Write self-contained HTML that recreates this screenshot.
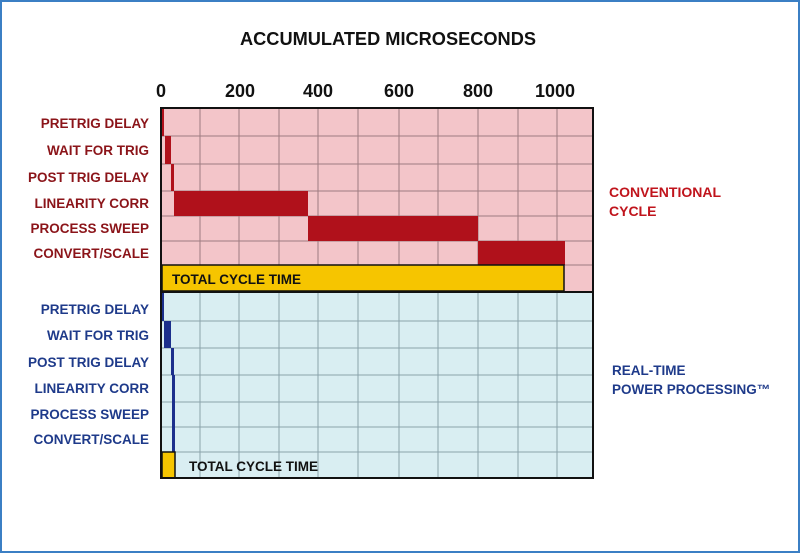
<!DOCTYPE html>
<html><head><meta charset="utf-8"><style>
html,body{margin:0;padding:0;background:#fff}
svg{display:block}
text{font-family:"Liberation Sans",sans-serif;font-weight:bold}
</style></head><body>
<svg width="800" height="553" viewBox="0 0 800 553">
<rect x="1" y="1" width="798" height="551" fill="#fff" stroke="#3b7fc4" stroke-width="2"/>
<text x="388" y="45" font-size="18" text-anchor="middle" fill="#111" textLength="296" lengthAdjust="spacingAndGlyphs">ACCUMULATED MICROSECONDS</text>
<g font-size="18" fill="#111" text-anchor="middle">
<text x="161" y="97">0</text><text x="240" y="97">200</text><text x="318" y="97">400</text>
<text x="399" y="97">600</text><text x="478" y="97">800</text><text x="555" y="97">1000</text>
</g>
<rect x="161" y="108" width="432" height="184" fill="#f3c5c9"/>
<rect x="161" y="292" width="432" height="186" fill="#d9eef2"/>
<g stroke="#8a6a70" stroke-width="1" opacity="0.8">
<line x1="200" y1="108" x2="200" y2="292"/><line x1="239" y1="108" x2="239" y2="292"/><line x1="279" y1="108" x2="279" y2="292"/><line x1="318" y1="108" x2="318" y2="292"/><line x1="358" y1="108" x2="358" y2="292"/><line x1="399" y1="108" x2="399" y2="292"/><line x1="438" y1="108" x2="438" y2="292"/><line x1="478" y1="108" x2="478" y2="292"/><line x1="518" y1="108" x2="518" y2="292"/><line x1="557" y1="108" x2="557" y2="292"/>
<line x1="161" y1="136" x2="593" y2="136"/><line x1="161" y1="164" x2="593" y2="164"/><line x1="161" y1="191" x2="593" y2="191"/><line x1="161" y1="216" x2="593" y2="216"/><line x1="161" y1="241" x2="593" y2="241"/><line x1="161" y1="265" x2="593" y2="265"/>
</g>
<g stroke="#8aa4ab" stroke-width="1">
<line x1="200" y1="292" x2="200" y2="478"/><line x1="239" y1="292" x2="239" y2="478"/><line x1="279" y1="292" x2="279" y2="478"/><line x1="318" y1="292" x2="318" y2="478"/><line x1="358" y1="292" x2="358" y2="478"/><line x1="399" y1="292" x2="399" y2="478"/><line x1="438" y1="292" x2="438" y2="478"/><line x1="478" y1="292" x2="478" y2="478"/><line x1="518" y1="292" x2="518" y2="478"/><line x1="557" y1="292" x2="557" y2="478"/>
<line x1="161" y1="321" x2="593" y2="321"/><line x1="161" y1="348" x2="593" y2="348"/><line x1="161" y1="375" x2="593" y2="375"/><line x1="161" y1="402" x2="593" y2="402"/><line x1="161" y1="427" x2="593" y2="427"/><line x1="161" y1="452" x2="593" y2="452"/>
</g>
<g fill="#b0111b">
<rect x="161" y="109" width="3" height="27"/>
<rect x="165" y="136" width="6" height="28"/>
<rect x="171" y="164" width="3" height="27"/>
<rect x="174" y="191" width="134" height="25"/>
<rect x="308" y="216" width="170" height="25"/>
<rect x="478" y="241" width="87" height="24"/>
</g>
<rect x="162" y="265" width="402" height="26" fill="#f6c500" stroke="#111" stroke-width="1.5"/>
<text x="172" y="284" font-size="13.5" fill="#111">TOTAL CYCLE TIME</text>
<g fill="#1c2f8c">
<rect x="161" y="293" width="3" height="28"/>
<rect x="164" y="321" width="7" height="27"/>
<rect x="171" y="348" width="3" height="27"/>
<rect x="172" y="375" width="3" height="77"/>
</g>
<rect x="162" y="452" width="13" height="26" fill="#f6c500" stroke="#111" stroke-width="1.5"/>
<text x="189" y="471" font-size="13.5" fill="#111">TOTAL CYCLE TIME</text>
<rect x="161" y="108" width="432" height="370" fill="none" stroke="#111" stroke-width="2"/>
<line x1="161" y1="292" x2="593" y2="292" stroke="#111" stroke-width="2"/>
<g font-size="13.5" fill="#8b1419" text-anchor="end">
<text x="149" y="128">PRETRIG DELAY</text>
<text x="149" y="155">WAIT FOR TRIG</text>
<text x="149" y="182">POST TRIG DELAY</text>
<text x="149" y="208">LINEARITY CORR</text>
<text x="149" y="233">PROCESS SWEEP</text>
<text x="149" y="258">CONVERT/SCALE</text>
</g>
<g font-size="13.5" fill="#1e3a8a" text-anchor="end">
<text x="149" y="314">PRETRIG DELAY</text>
<text x="149" y="340">WAIT FOR TRIG</text>
<text x="149" y="367">POST TRIG DELAY</text>
<text x="149" y="393">LINEARITY CORR</text>
<text x="149" y="419">PROCESS SWEEP</text>
<text x="149" y="444">CONVERT/SCALE</text>
</g>
<g font-size="14" fill="#c0141c">
<text x="609" y="197" style="font-weight:600">CONVENTIONAL</text>
<text x="609" y="216" style="font-weight:600">CYCLE</text>
</g>
<g font-size="13.5" fill="#1e3a8a">
<text x="612" y="375">REAL-TIME</text>
<text x="612" y="394">POWER PROCESSING™</text>
</g>
</svg>
</body></html>
